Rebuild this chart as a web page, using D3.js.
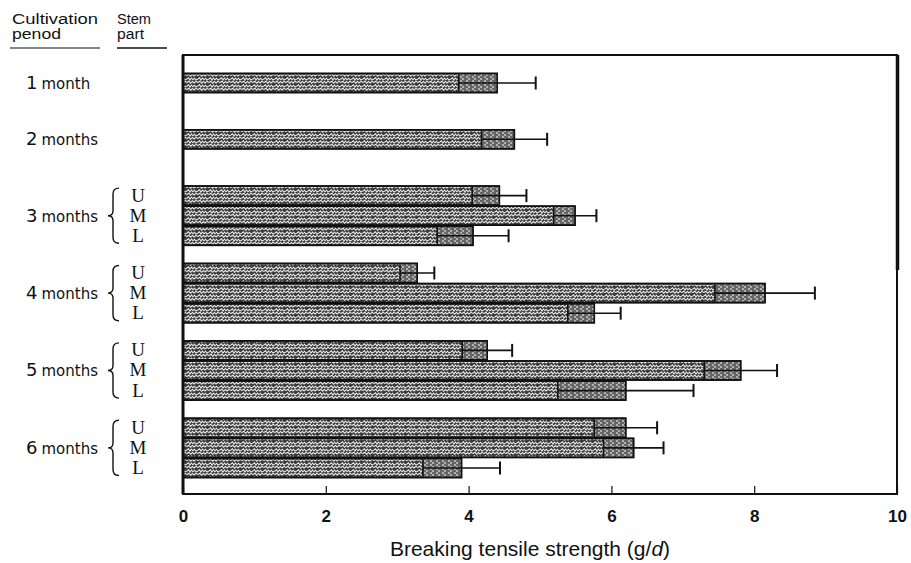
<!DOCTYPE html>
<html><head><meta charset="utf-8">
<script src="https://cdn.jsdelivr.net/npm/d3@7"></script>
<style>body{margin:0;background:#fff}svg{display:block}</style>
</head><body>
<script>
// ---- data ----
const periodLabels = ["1 month","2 months","3 months","4 months","5 months","6 months"];
const rowPeriod = ["1 month","2 months","3 months","3 months","3 months","4 months","4 months","4 months","5 months","5 months","5 months","6 months","6 months","6 months"];
const rowPart   = ["","","U","M","L","U","M","L","U","M","L","U","M","L"];
const means     = [4.40,4.64,4.43,5.49,4.06,3.28,8.15,5.76,4.26,7.81,6.20,6.20,6.31,3.90];
const sds       = [0.54,0.46,0.38,0.30,0.50,0.24,0.70,0.37,0.35,0.51,0.95,0.44,0.42,0.54];
const xTicks    = [0,2,4,6,8,10];
const xTitle    = "Breaking tensile strength (g/";

(function(){
const W = 911, H = 563;
const svg = d3.select("body").append("svg").attr("width", W).attr("height", H);
const defs = svg.append("defs");

// stipple texture
const p1 = defs.append("pattern").attr("id","stip").attr("patternUnits","userSpaceOnUse")
  .attr("width",11).attr("height",7);
p1.append("rect").attr("width",11).attr("height",7).attr("fill","#3c3c3c");
p1.append("path").attr("d","M0,2 L1.5,0.8 L3,3 L4.5,1 L6,2.8 L7.5,1.2 L9,3 L11,2 M0,5.5 L2,4.2 L3.5,6.2 L5.5,4.5 L7,6 L9,4.3 L11,5.5")
  .attr("stroke","#ececec").attr("stroke-width",1.05).attr("fill","none");
const p2 = defs.append("pattern").attr("id","stip2").attr("patternUnits","userSpaceOnUse")
  .attr("width",6).attr("height",4);
p2.append("rect").attr("width",6).attr("height",4).attr("fill","#b0b0b0");
p2.append("path").attr("d","M0,1 L4,1 M2,3 L6,3").attr("stroke","#1a1a1a").attr("stroke-width",1);

// ---- scales ----
const x = d3.scaleLinear().domain([0,10]).range([183,897]);
const pos = [];
rowPeriod.forEach((p,i)=>{
  if(i===0){pos.push(0);return;}
  const prev = rowPeriod[i-1];
  if(prev===p) pos.push(pos[i-1]+1);
  else if(rowPart[i-1]===""||rowPart[i]==="") pos.push(pos[i-1]+2.8);
  else pos.push(pos[i-1]+1.85);
});
const y = d3.scaleLinear().domain([0,d3.max(pos)]).range([83,468]);
const bh = 19;

const yTop = 55, yBottom = 494;

const g = svg.append("g");
means.forEach((m,i)=>{
  const cy = y(pos[i]);
  g.append("rect").attr("x",x(0)).attr("y",cy-bh/2).attr("width",x(m)-x(0)).attr("height",bh)
    .attr("fill","url(#stip)").attr("stroke","#111").attr("stroke-width",1.6);
  g.append("rect").attr("x",x(m-sds[i])).attr("y",cy-bh/2+1).attr("width",x(m)-x(m-sds[i])).attr("height",bh-2)
    .attr("fill","url(#stip2)");
  g.append("line").attr("x1",x(m-sds[i])).attr("x2",x(m+sds[i])).attr("y1",cy).attr("y2",cy)
    .attr("stroke","#111").attr("stroke-width",1.6);
  g.append("line").attr("x1",x(m-sds[i])).attr("x2",x(m-sds[i])).attr("y1",cy-bh/2+1).attr("y2",cy+bh/2-1)
    .attr("stroke","#111").attr("stroke-width",1.6);
  g.append("line").attr("x1",x(m+sds[i])).attr("x2",x(m+sds[i])).attr("y1",cy-6.5).attr("y2",cy+6.5)
    .attr("stroke","#111").attr("stroke-width",2);
  g.append("rect").attr("x",x(0)).attr("y",cy-bh/2).attr("width",x(m)-x(0)).attr("height",bh)
    .attr("fill","none").attr("stroke","#111").attr("stroke-width",1.6);
});

svg.append("rect").attr("x",x(0)).attr("y",yTop).attr("width",x(10)-x(0)).attr("height",yBottom-yTop)
  .attr("fill","none").attr("stroke","#111").attr("stroke-width",2);
svg.append("line").attr("x1",x(0)).attr("x2",x(0)).attr("y1",yTop).attr("y2",yBottom).attr("stroke","#111").attr("stroke-width",3);
svg.append("line").attr("x1",x(10)+0.5).attr("x2",x(10)+0.5).attr("y1",yTop).attr("y2",270).attr("stroke","#111").attr("stroke-width",3.5);

const ax = svg.append("g").attr("transform",`translate(0,${yBottom})`)
  .call(d3.axisBottom(x).tickValues(xTicks).tickFormat(d3.format("d")).tickSizeInner(-8).tickSizeOuter(0).tickPadding(16));
ax.select(".domain").remove();
ax.selectAll(".tick line").attr("stroke","#111").attr("stroke-width",1.2);
ax.selectAll(".tick text").attr("font-family","Liberation Sans, Arial, sans-serif").attr("font-size",17)
  .attr("font-weight","bold").attr("fill","#111");

const t = svg.append("text").attr("x",530).attr("y",556).attr("text-anchor","middle")
  .attr("font-family","Liberation Sans, Arial, sans-serif").attr("font-size",21).attr("fill","#111");
t.append("tspan").text(xTitle);
t.append("tspan").attr("font-style","italic").text("d");
t.append("tspan").text(")");

const hf = "Liberation Sans, Arial, sans-serif";
const hdr = svg.append("g").attr("font-family",hf).attr("font-size",14).attr("fill","#111");
hdr.append("text").attr("x",12).attr("y",24).attr("textLength",86).attr("lengthAdjust","spacingAndGlyphs").text("Cultivation");
hdr.append("text").attr("x",12).attr("y",39).attr("textLength",49).attr("lengthAdjust","spacingAndGlyphs").text("penod");
hdr.append("text").attr("x",117).attr("y",24).attr("textLength",34).attr("lengthAdjust","spacingAndGlyphs").text("Stem");
hdr.append("text").attr("x",117).attr("y",39).attr("textLength",27).attr("lengthAdjust","spacingAndGlyphs").text("part");
svg.append("line").attr("x1",10).attr("x2",100).attr("y1",48).attr("y2",48).attr("stroke","#111").attr("stroke-width",1.2);
svg.append("line").attr("x1",117).attr("x2",167).attr("y1",48).attr("y2",48).attr("stroke","#111").attr("stroke-width",1.5);

periodLabels.forEach(p=>{
  const idx = rowPeriod.map((r,i)=>r===p?i:-1).filter(i=>i>=0);
  const y0 = y(pos[idx[0]]), y1 = y(pos[idx[idx.length-1]]);
  const ym = (y0+y1)/2;
  const [num, word] = p.split(" ");
  const tx = svg.append("text").attr("x",26).attr("y",ym+6).attr("font-family","DejaVu Sans, sans-serif").attr("fill","#111");
  tx.append("tspan").attr("font-size",18).text(num);
  tx.append("tspan").attr("font-size",15).attr("dx",4).text(word);
  if(idx.length>1){
    const a = y0-bh/2+2, b = y1+bh/2-2, bx = 113;
    svg.append("path").attr("d",`M${bx+6},${a} Q${bx},${a} ${bx},${a+6} L${bx},${ym-5} Q${bx},${ym} ${bx-5},${ym} Q${bx},${ym} ${bx},${ym+5} L${bx},${b-6} Q${bx},${b} ${bx+6},${b}`)
      .attr("fill","none").attr("stroke","#111").attr("stroke-width",1.4);
    idx.forEach(i=>{
      svg.append("text").attr("x",138).attr("y",y(pos[i])+6).attr("text-anchor","middle")
        .attr("font-family","Liberation Serif, Times New Roman, serif").attr("font-size",19).attr("fill","#111").text(rowPart[i]);
    });
  }
});
})();
</script>
</body></html>
